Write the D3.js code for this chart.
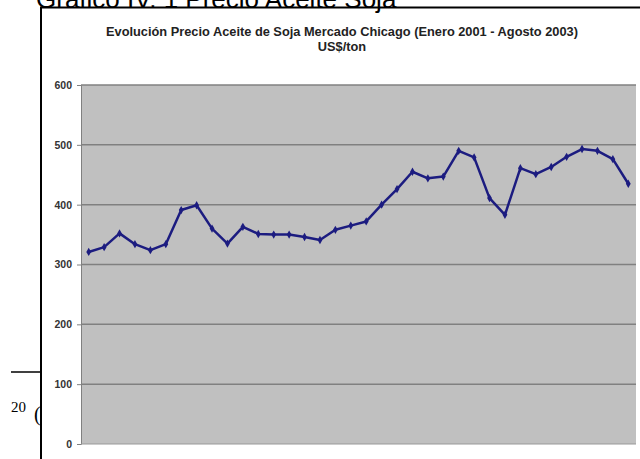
<!DOCTYPE html>
<html><head><meta charset="utf-8">
<script src="https://cdn.jsdelivr.net/npm/d3@7"></script>
<style>body{margin:0;background:#fff}svg{display:block}</style>
</head><body>
<script>
const periods = d3.range(1, 37).map(String);
const prices = [321, 329, 352, 334, 324, 334, 391, 399, 360, 335, 363, 351,
                350, 350, 346, 341, 358, 365, 372, 400, 426, 455, 444, 447,
                490, 479, 411, 383, 461, 451, 463, 480, 493, 490, 476, 435];
const yTicks = [0, 100, 200, 300, 400, 500, 600];
const docTitle = "Grafico IV. 1 Precio Aceite Soja";
const chartTitle = ["Evolución Precio Aceite de Soja Mercado Chicago (Enero 2001 - Agosto 2003)", "US$/ton"];

const W = 640, H = 459;
const svg = d3.select("body").append("svg").attr("width", W).attr("height", H);

const x = d3.scaleBand().domain(periods).range([81, 636]);
const y = d3.scaleLinear().domain([0, 600]).range([444, 85]);

// document heading (cut at top)
svg.append("text").attr("x", 36).attr("y", 8).attr("font-family", "Liberation Sans, Arial")
  .attr("font-size", 26).attr("fill", "#000").text(docTitle);

// frame
svg.append("path").attr("d", "M41,459 L41,7.5 L640,7.5").attr("fill", "none")
  .attr("stroke", "#000").attr("stroke-width", 2);

// footnote fragment on left
svg.append("line").attr("x1", 11).attr("x2", 41).attr("y1", 372).attr("y2", 372)
  .attr("stroke", "#000").attr("stroke-width", 1.5);
svg.append("text").attr("x", 11).attr("y", 412).attr("font-family", "Liberation Serif, Times New Roman")
  .attr("font-size", 15).attr("fill", "#000").text("20");
svg.append("text").attr("x", 34).attr("y", 421).attr("font-family", "Liberation Serif, Times New Roman")
  .attr("font-size", 20).attr("fill", "#000").text("(");

// chart title
const t = svg.append("text").attr("text-anchor", "middle").attr("font-family", "Liberation Sans, Arial")
  .attr("font-weight", "bold").attr("font-size", 12.8).attr("fill", "#222");
t.append("tspan").attr("x", 342).attr("y", 36).text(chartTitle[0]);
t.append("tspan").attr("x", 342).attr("y", 51).text(chartTitle[1]);

// plot area
svg.append("rect").attr("x", 81).attr("y", 85).attr("width", 555).attr("height", 359)
  .attr("fill", "#c0c0c0");

// gridlines
svg.append("g").selectAll("line").data(yTicks.filter(d => d > 0)).join("line")
  .attr("x1", 81).attr("x2", 636).attr("y1", d => y(d)).attr("y2", d => y(d))
  .attr("stroke", "#808080").attr("stroke-width", 1.5);

// y axis
const ya = svg.append("g").attr("transform", "translate(81,0)")
  .call(d3.axisLeft(y).tickValues(yTicks).tickSize(4).tickPadding(5));
ya.select(".domain").attr("stroke", "#808080");
ya.selectAll(".tick line").attr("stroke", "#808080");
ya.selectAll(".tick text").attr("font-family", "Liberation Sans, Arial").attr("font-weight", "bold")
  .attr("font-size", 10.5).attr("fill", "#333");

// x axis line
svg.append("line").attr("x1", 81).attr("x2", 636).attr("y1", 444).attr("y2", 444)
  .attr("stroke", "#999").attr("stroke-width", 1);

// series
const cx = d => x(d) + x.bandwidth() / 2;
const line = d3.line().x((d, i) => cx(periods[i])).y(d => y(d));
svg.append("path").datum(prices).attr("d", line).attr("fill", "none")
  .attr("stroke", "#1c1c80").attr("stroke-width", 2.5).attr("stroke-linejoin", "round");

svg.append("g").selectAll("path").data(prices).join("path")
  .attr("d", d3.symbol(d3.symbolDiamond, 20))
  .attr("transform", (d, i) => `translate(${cx(periods[i])},${y(d)})`)
  .attr("fill", "#1c1c80");
</script>
</body></html>
